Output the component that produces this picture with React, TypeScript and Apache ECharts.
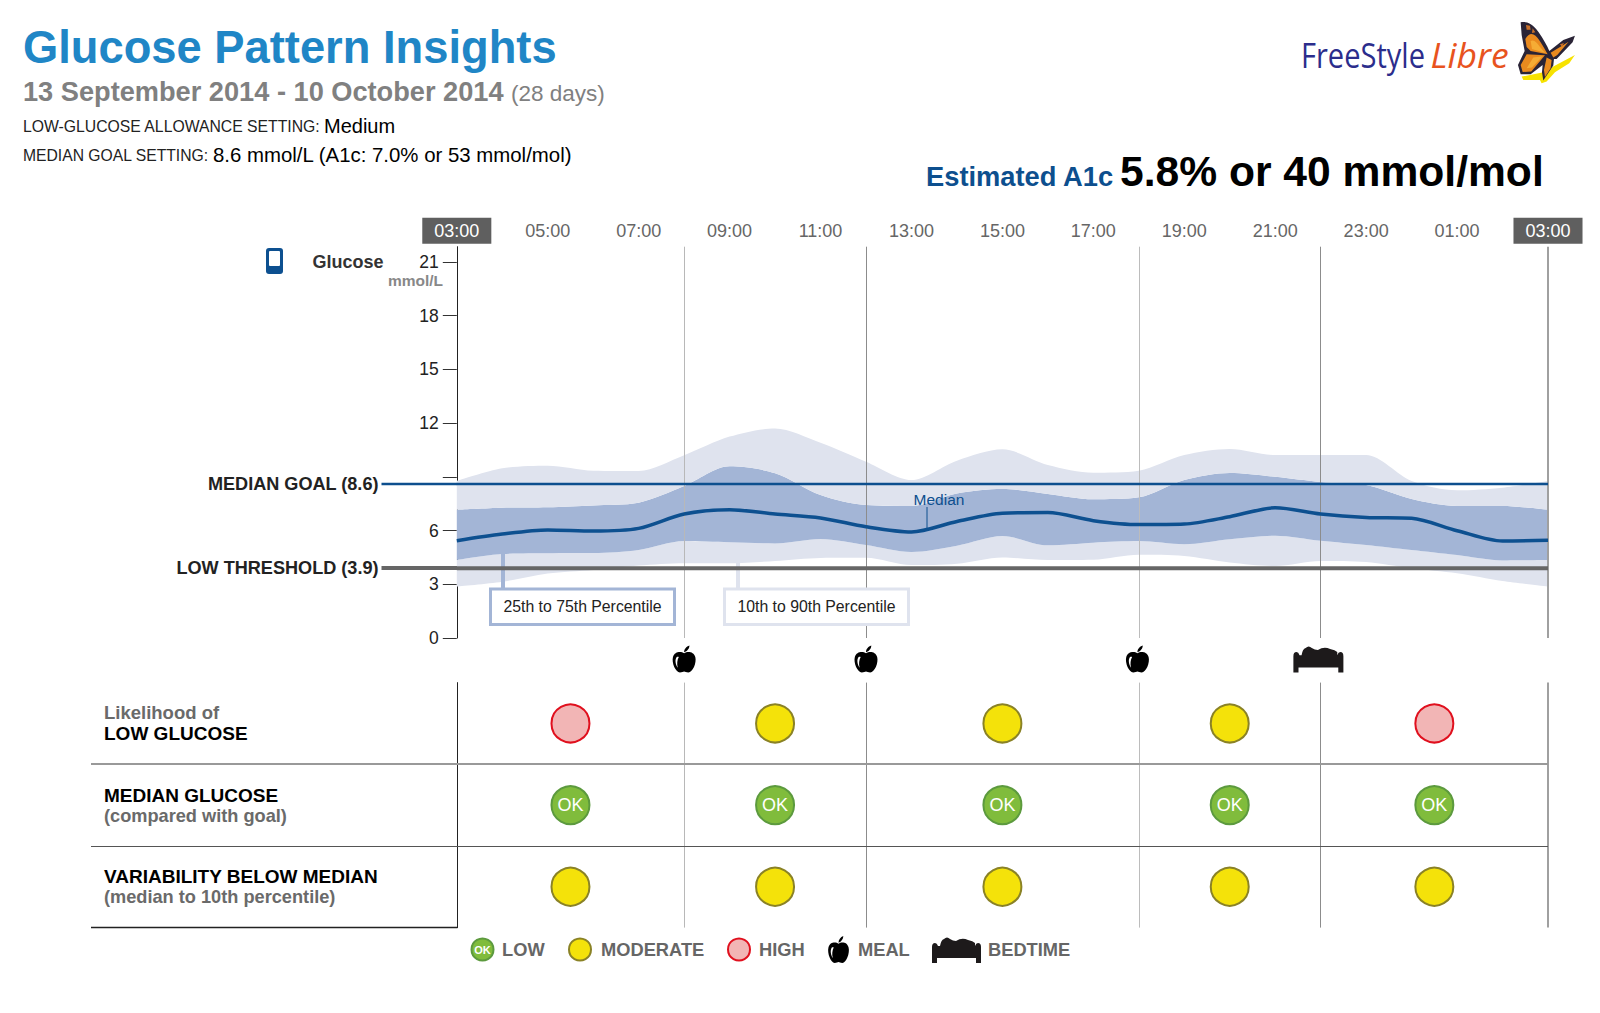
import React, { useEffect, useRef } from "react";
import * as echarts from "echarts";

const hours = [3, 4, 5, 6, 7, 8, 9, 10, 11, 12, 13, 14, 15, 16, 17, 18, 19, 20, 21, 22, 23, 24, 25, 26, 27];
const p90 = [8.76, 9.47, 9.62, 9.34, 9.32, 10.2, 11.24, 11.7, 10.9, 9.84, 8.82, 9.9, 10.53, 9.66, 9.23, 9.34, 10.21, 10.55, 10.21, 10.21, 10.21, 8.76, 8.24, 8.39, 8.76];
const p75 = [7.16, 7.27, 7.3, 7.4, 7.55, 8.48, 9.58, 9.2, 7.98, 7.42, 7.37, 8.07, 8.32, 8.04, 7.74, 7.85, 8.82, 9.21, 9.0, 8.71, 8.54, 7.76, 7.37, 7.37, 7.16];
const median = [5.43, 5.8, 6.03, 5.97, 6.12, 6.92, 7.16, 6.92, 6.7, 6.21, 5.92, 6.5, 6.96, 7.0, 6.55, 6.33, 6.36, 6.77, 7.27, 6.92, 6.73, 6.68, 5.99, 5.41, 5.45];
const p25 = [4.35, 4.69, 4.73, 4.74, 4.91, 5.41, 5.34, 5.28, 5.53, 5.19, 4.8, 5.15, 5.69, 5.17, 5.32, 5.41, 5.23, 5.51, 5.71, 5.43, 5.19, 4.91, 4.63, 4.33, 4.35];
const p10 = [2.87, 3.14, 3.6, 3.8, 4.04, 4.17, 4.17, 4.3, 4.47, 4.48, 4.07, 4.15, 4.5, 4.35, 4.37, 4.65, 4.58, 4.22, 4.02, 4.3, 4.24, 3.89, 3.61, 3.18, 2.87];

const timeTicks = [3, 5, 7, 9, 11, 13, 15, 17, 19, 21, 23, 25, 27];
const yTicks = [0, 3, 6, 9, 12, 15, 18, 21];
const yLabels = [0, 3, 6, 12, 15, 18, 21];
const periodBounds = [8, 12, 18, 22, 27];
const boundColors = ["#b8b8b8", "#8c8c8c", "#bcbcbc", "#8c8c8c", "#a0a0a0"];
const medianGoal = 8.6;
const lowThreshold = 3.9;
const mealHours = [8, 12, 17.97];
const bedHours = [21.95];

const slotHours = [5.5, 10, 15, 20, 24.5];
const rowNames = ["Likelihood of LOW GLUCOSE", "MEDIAN GLUCOSE", "VARIABILITY BELOW MEDIAN"];
const rowLevels = [
  ["HIGH", "MODERATE", "MODERATE", "MODERATE", "HIGH"],
  ["LOW", "LOW", "LOW", "LOW", "LOW"],
  ["MODERATE", "MODERATE", "MODERATE", "MODERATE", "MODERATE"],
];

const FONT = "Liberation Sans";
const APPLE =
  "M12 8C9 6 3 6 1.5 12C0 18 4 28 8 28C10 28 11 27 12 27C13 27 14 28 16 28C20 28 24 18 22.5 12C21 6 15 6 12 8ZM5 12C5.5 11.5 6.5 11.5 7 12C5.5 15 5 19 6 23C4 20 3 15 5 12ZM12 7C12 4 14 1 17 0C17 3 15 6 12 7Z";
const BED =
  "M0 10Q0 6 3 6Q5 6 6 9L8 9Q9 3 12 2Q15 -1 18 2Q21 4 24 4Q30 0 36 3Q41 4 43 6L43 9Q44 6 46 6Q49 6 49 10L49 26L44 26L44 21L5 21L5 26L0 26Z";

const B_SHADOW = "M35 185L100 172L130 155L195 120L178 145L135 172L110 200L95 205L90 195L40 195Z";
const B_DARK =
  "M32 22C45 18 65 22 85 50C100 72 112 92 118 108L160 75L195 62L188 82L140 132L132 132L130 152L100 197L96 172L98 150L62 178L32 178L24 150L44 108L35 60Z";
const B_ORANGE =
  "M46 72C60 48 75 56 88 76C98 92 106 105 113 118L62 108L50 96ZM50 118L105 121L64 170L38 171L32 150ZM110 128L125 135L122 160L105 186L102 165ZM122 113L160 90L176 80L142 120L130 128Z";
const B_LIGHT = "M62 78C72 72 80 82 92 98L106 114L66 102ZM70 128L98 124L66 158L50 160Z";
const B_SPOTS = "M48 30L60 32L62 44L50 44ZM68 40L76 52L66 54ZM150 88L162 84L156 96Z";

function line(x1: number, y1: number, x2: number, y2: number, stroke: string, lineWidth: number, z = 20) {
  return { type: "line", z, silent: true, shape: { x1, y1, x2, y2 }, style: { stroke, lineWidth } };
}
function text(x: number, y: number, t: string, fontSize: number, fill: string, bold = false, align = "left", extra: any = {}, el: any = {}) {
  return {
    type: "text",
    z: 21,
    silent: true,
    x,
    y,
    ...el,
    style: {
      text: t,
      fontSize,
      fill,
      fontWeight: bold ? "bold" : "normal",
      fontFamily: FONT,
      align,
      verticalAlign: "middle",
      ...extra,
    },
  };
}
function band(name: string, upper: number[], lower: number[], color: string | null) {
  return {
    name,
    type: "line",
    stack: "bands",
    xAxisIndex: 2,
    yAxisIndex: 0,
    smooth: 0.3,
    symbol: "none",
    silent: true,
    z: 2,
    lineStyle: { width: 0, opacity: 0 },
    areaStyle: color ? { color, opacity: 1 } : { opacity: 0 },
    data: hours.map((_, i) => upper[i] - lower[i]),
  };
}
function levelSeries(level: string, color: string, borderColor: string, label: boolean) {
  const data: number[][] = [];
  rowLevels.forEach((row, r) =>
    row.forEach((l, c) => {
      if (l === level) data.push([slotHours[c], r]);
    })
  );
  return {
    name: level,
    type: "scatter",
    xAxisIndex: 1,
    yAxisIndex: 1,
    symbol: "circle",
    symbolSize: 38,
    z: 5,
    silent: true,
    itemStyle: { color, borderColor, borderWidth: 2, opacity: 1 },
    label: label
      ? { show: true, position: "inside", formatter: "OK", color: "#fff", fontSize: 18, fontFamily: FONT }
      : { show: false },
    data,
  };
}
const boundLines = {
  silent: true,
  symbol: "none",
  label: { show: false },
  data: periodBounds.map((v, i) => ({
    xAxis: v,
    lineStyle: { color: boundColors[i], width: v === 27 ? 2 : 1, type: "solid" },
  })),
};

export default function App() {
  const ref = useRef<HTMLDivElement>(null);
  useEffect(() => {
    document.body.style.margin = "0";
    echarts.graphic.registerShape("appleIcon", echarts.graphic.extendPath(APPLE, {}) as any);
    echarts.graphic.registerShape("bedIcon", echarts.graphic.extendPath(BED, {}) as any);
    echarts.graphic.registerShape("bShadow", echarts.graphic.extendPath(B_SHADOW, {}) as any);
    echarts.graphic.registerShape("bDark", echarts.graphic.extendPath(B_DARK, {}) as any);
    echarts.graphic.registerShape("bOrange", echarts.graphic.extendPath(B_ORANGE, {}) as any);
    echarts.graphic.registerShape("bLight", echarts.graphic.extendPath(B_LIGHT, {}) as any);
    echarts.graphic.registerShape("bSpots", echarts.graphic.extendPath(B_SPOTS, {}) as any);

    const chart = echarts.init(ref.current!, undefined, { renderer: "svg" });
    const bfly = (type: string, fill: string) => ({
      type,
      z: 21,
      silent: true,
      x: 1510,
      y: 15,
      scaleX: 1 / 3,
      scaleY: 1 / 3,
      style: { fill },
    });
    chart.setOption({
      animation: false,
      backgroundColor: "#fff",
      textStyle: { fontFamily: FONT },
      grid: [
        { left: 456.8, top: 246.7, width: 1091.2, height: 391.3 },
        { left: 456.8, top: 682.6, width: 1091.2, height: 245 },
      ],
      xAxis: [
        {
          gridIndex: 0,
          type: "value",
          position: "top",
          min: 3,
          max: 27,
          axisLine: { show: false },
          axisTick: { show: false },
          splitLine: { show: false },
          axisLabel: {
            customValues: timeTicks,
            margin: 7,
            formatter: (v: number) => {
              const s = String(v % 24).padStart(2, "0") + ":00";
              return v === 3 || v === 27 ? `{box|${s}}` : `{plain|${s}}`;
            },
            rich: {
              box: { backgroundColor: "#5f5f5f", color: "#fff", fontSize: 18, padding: [4, 12, 4, 12], lineHeight: 18, fontFamily: FONT },
              plain: { color: "#666", fontSize: 18, padding: [4, 12, 4, 12], lineHeight: 18, fontFamily: FONT },
            },
          },
        },
        {
          gridIndex: 1,
          type: "value",
          min: 3,
          max: 27,
          axisLine: { show: false },
          axisTick: { show: false },
          axisLabel: { show: false },
          splitLine: { show: false },
        },
        {
          gridIndex: 0,
          type: "category",
          show: false,
          boundaryGap: false,
          data: hours,
        },
      ],
      yAxis: [
        {
          gridIndex: 0,
          type: "value",
          min: 0,
          max: 21.84,
          axisLine: { show: true, lineStyle: { color: "#222", width: 1 } },
          axisTick: { show: true, customValues: yTicks, length: 14, lineStyle: { color: "#333", width: 1 } },
          axisLabel: { customValues: yLabels, margin: 18, color: "#222", fontSize: 17.5, fontFamily: FONT },
          splitLine: { show: false },
        },
        {
          gridIndex: 1,
          type: "category",
          inverse: true,
          data: rowNames,
          axisLine: { show: true, lineStyle: { color: "#222", width: 1 } },
          axisTick: { show: false },
          axisLabel: { show: false },
          splitLine: { show: false },
        },
      ],
      series: [
        band("floor", p10, hours.map(() => 0), null),
        band("10th to 25th", p25, p10, "#dfe3ee"),
        band("25th to 75th", p75, p25, "#a3b5d6"),
        band("75th to 90th", p90, p75, "#dfe3ee"),
        {
          name: "bounds",
          type: "line",
          xAxisIndex: 0,
          yAxisIndex: 0,
          data: [],
          z: 3,
          markLine: { ...boundLines, z: 3 },
        },
        {
          name: "boundsLower",
          type: "line",
          xAxisIndex: 1,
          yAxisIndex: 1,
          data: [],
          z: 3,
          markLine: { ...boundLines, z: 3 },
        },
        {
          name: "Median",
          type: "line",
          xAxisIndex: 0,
          yAxisIndex: 0,
          smooth: 0.3,
          symbol: "none",
          silent: true,
          z: 6,
          lineStyle: { color: "#0d5090", width: 3.5 },
          data: hours.map((h, i) => [h, median[i]]),
        },
        {
          name: "MEDIAN GOAL",
          type: "line",
          xAxisIndex: 0,
          yAxisIndex: 0,
          symbol: "none",
          silent: true,
          z: 7,
          lineStyle: { color: "#0d4f8e", width: 2.5 },
          data: [[3, medianGoal], [27, medianGoal]],
        },
        {
          name: "LOW THRESHOLD",
          type: "line",
          xAxisIndex: 0,
          yAxisIndex: 0,
          symbol: "none",
          silent: true,
          z: 7,
          lineStyle: { color: "#666", width: 4 },
          data: [[3, lowThreshold], [27, lowThreshold]],
        },
        {
          name: "MEAL",
          type: "scatter",
          xAxisIndex: 0,
          yAxisIndex: 0,
          clip: false,
          silent: true,
          symbol: "path://" + APPLE,
          symbolSize: [23, 27],
          itemStyle: { color: "#000", opacity: 1 },
          data: mealHours.map((h) => [h, -1.17]),
        },
        {
          name: "BEDTIME",
          type: "scatter",
          xAxisIndex: 0,
          yAxisIndex: 0,
          clip: false,
          silent: true,
          symbol: "path://" + BED,
          symbolSize: [50, 26],
          itemStyle: { color: "#1d1a1b", opacity: 1 },
          data: bedHours.map((h) => [h, -1.2]),
        },
        levelSeries("LOW", "#80bc3c", "#5c9a3e", true),
        levelSeries("MODERATE", "#f4e20a", "#8a8226", false),
        levelSeries("HIGH", "#f2b5b5", "#e0101e", false),
      ],
      graphic: { elements: [
        text(23, 47, "Glucose Pattern Insights", 45.3, "#2086c6", true),
        text(23, 91, "13 September 2014 - 10 October 2014", 27.2, "#808080", true),
        text(511, 93, "(28 days)", 22.5, "#808080"),
        text(23, 126, "LOW-GLUCOSE ALLOWANCE SETTING:", 15.75, "#222"),
        text(324, 126, "Medium", 20, "#000"),
        text(23, 155.5, "MEDIAN GOAL SETTING:", 15.7, "#222"),
        text(213, 155, "8.6 mmol/L (A1c: 7.0% or 53 mmol/mol)", 20.4, "#000"),
        text(926, 176.5, "Estimated A1c", 27.3, "#0d4f8e", true),
        text(1120, 171, "5.8% or 40 mmol/mol", 42.6, "#000", true),

        text(1301, 54, "FreeStyle", 35, "#2b2d8c", false, "left", { fontFamily: "Open Sans" }, { scaleX: 0.83 }),
        text(1430.5, 54, "Libre", 35.5, "#e8531e", false, "left", { fontFamily: "Open Sans", fontStyle: "italic" }),
        bfly("bShadow", "#f7e200"),
        bfly("bDark", "#2a2436"),
        bfly("bOrange", "#e98a1f"),
        bfly("bLight", "#f5ac35"),
        bfly("bSpots", "#c9702a"),

        { type: "rect", z: 21, silent: true, shape: { x: 266, y: 248, width: 17, height: 26, r: 3 }, style: { fill: "#0d5090" } },
        { type: "rect", z: 22, silent: true, shape: { x: 269, y: 251, width: 11, height: 15, r: 1 }, style: { fill: "#fff" } },
        text(312.5, 262, "Glucose", 18, "#333", true),
        text(443, 280, "mmol/L", 15.5, "#888", true, "right"),
        text(378.5, 484, "MEDIAN GOAL (8.6)", 18.1, "#222", true, "right"),
        text(378.5, 568, "LOW THRESHOLD (3.9)", 18.1, "#222", true, "right"),
        line(381.5, 484, 457, 484, "#0d4f8e", 2.5),
        line(381.5, 568, 457, 568, "#666", 4),

        text(939, 499, "Median", 15.5, "#0d4f8e", false, "center"),
        line(927, 507, 927, 528, "#0d4f8e", 1),
        line(503, 553, 503, 588, "#a3b5d6", 4, 4),
        line(738, 563, 738, 588, "#dfe3ee", 4, 4),
        { type: "rect", z: 20, silent: true, shape: { x: 490.5, y: 589, width: 184, height: 35.5 }, style: { fill: "#fff", stroke: "#a3b5d6", lineWidth: 3 } },
        { type: "rect", z: 20, silent: true, shape: { x: 724.5, y: 589, width: 184, height: 35.5 }, style: { fill: "#fff", stroke: "#dfe3ee", lineWidth: 3 } },
        text(582.5, 606.5, "25th to 75th Percentile", 15.8, "#222", false, "center"),
        text(816.5, 606.5, "10th to 90th Percentile", 15.8, "#222", false, "center"),

        line(91, 764, 1548, 764, "#999", 2),
        line(91, 846.5, 1548, 846.5, "#555", 1),
        line(91, 927.5, 457.5, 927.5, "#222", 1.5),
        text(104, 712.5, "Likelihood of", 18.5, "#6a6a6a", true),
        text(104, 733, "LOW GLUCOSE", 19, "#000", true),
        text(104, 795, "MEDIAN GLUCOSE", 19, "#000", true),
        text(104, 816, "(compared with goal)", 18.2, "#6a6a6a", true),
        text(104, 876, "VARIABILITY BELOW MEDIAN", 19, "#000", true),
        text(104, 897, "(median to 10th percentile)", 18.2, "#6a6a6a", true),

        { type: "circle", z: 21, silent: true, shape: { cx: 482.5, cy: 949.5, r: 11 }, style: { fill: "#80bc3c", stroke: "#5c9a3e", lineWidth: 2 } },
        text(482.5, 950, "OK", 11, "#fff", true, "center"),
        text(502, 949, "LOW", 18.3, "#666", true),
        { type: "circle", z: 21, silent: true, shape: { cx: 580, cy: 949.5, r: 11 }, style: { fill: "#f4e20a", stroke: "#8a8226", lineWidth: 2 } },
        text(601, 949, "MODERATE", 18.3, "#666", true),
        { type: "circle", z: 21, silent: true, shape: { cx: 739, cy: 949.5, r: 11 }, style: { fill: "#f2b5b5", stroke: "#e0101e", lineWidth: 2 } },
        text(759, 949, "HIGH", 18.3, "#666", true),
        { type: "appleIcon", z: 21, silent: true, x: 827, y: 936, scaleX: 0.96, scaleY: 0.96, style: { fill: "#000" } },
        text(858, 949, "MEAL", 18.3, "#666", true),
        { type: "bedIcon", z: 21, silent: true, x: 932, y: 937, style: { fill: "#1d1a1b" } },
        text(988, 949, "BEDTIME", 18.3, "#666", true),
      ] },
    });
    return () => chart.dispose();
  }, []);
  return <div ref={ref} style={{ width: 1600, height: 1013 }} />;
}
